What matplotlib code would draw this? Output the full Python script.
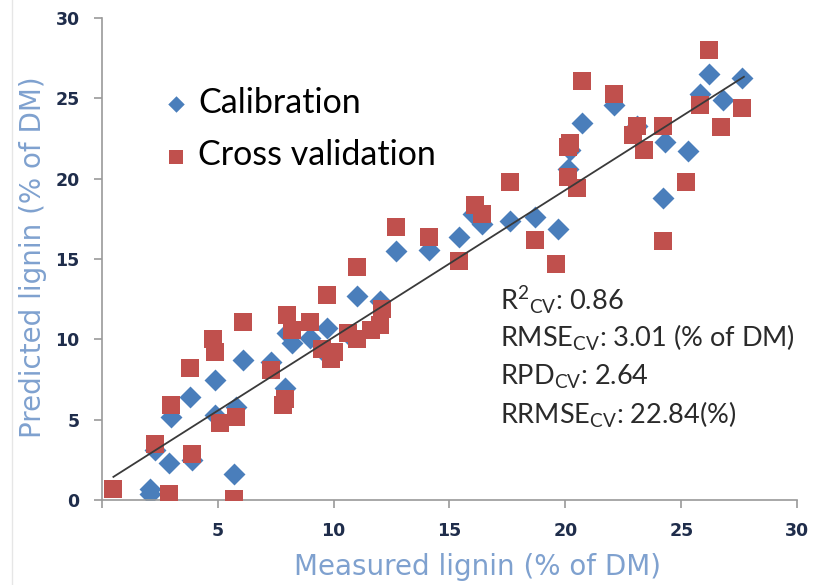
import matplotlib
matplotlib.use('Agg')
import matplotlib.pyplot as plt
from matplotlib.lines import Line2D

plt.rcParams['font.family'] = ['Lato', 'DejaVu Sans']
plt.rcParams['mathtext.default'] = 'regular'

# calibration points (measured, predicted)
cal_x = [2.1, 2.1, 5.7, 2.9, 3.9, 2.3, 3.0, 3.8, 4.9, 4.9, 5.8, 6.1, 7.3, 7.9,
         8.0, 8.2, 9.0, 9.7, 9.6, 10.7, 11.0, 12.0, 12.7, 14.1, 15.4, 16.0,
         16.4, 17.6, 18.7, 19.7, 20.1, 20.2, 20.7, 22.1, 23.1, 24.3, 25.3,
         24.2, 25.8, 26.2, 26.8, 27.6]
cal_y = [0.7, 0.4, 1.6, 2.3, 2.5, 3.1, 5.2, 6.4, 7.5, 5.3, 5.8, 8.7, 8.6, 7.0,
         10.4, 9.8, 10.1, 10.7, 9.2, 10.2, 12.7, 12.4, 15.5, 15.6, 16.4, 17.8,
         17.2, 17.4, 17.6, 16.9, 20.6, 21.8, 23.5, 24.6, 23.3, 22.3, 21.7,
         18.8, 25.3, 26.5, 24.9, 26.3]

# cross validation points
cv_x = [0.5, 2.9, 5.7, 2.3, 3.9, 3.0, 3.8, 4.8, 4.9, 5.1, 5.8, 6.1, 7.3, 7.8,
        7.9, 8.0, 8.2, 9.0, 9.7, 9.5, 9.9, 10.0, 10.6, 11.0, 11.0, 11.6, 12.0,
        12.1, 12.7, 14.1, 15.4, 16.1, 16.4, 17.6, 18.7, 19.6, 20.1, 20.5,
        20.1, 20.2, 20.7, 22.1, 22.9, 23.1, 23.4, 24.2, 24.2, 25.2, 25.8,
        26.2, 26.7, 27.6]
cv_y = [0.7, 0.4, 0.1, 3.5, 2.9, 5.9, 8.2, 10.0, 9.2, 4.8, 5.2, 11.1, 8.1, 5.9,
        6.3, 11.5, 10.6, 11.1, 12.8, 9.4, 8.8, 9.2, 10.4, 10.0, 14.5, 10.6,
        10.9, 11.9, 17.0, 16.4, 14.9, 18.4, 17.8, 19.8, 16.2, 14.7, 20.1, 19.4,
        22.0, 22.2, 26.1, 25.3, 22.7, 23.3, 21.8, 23.3, 16.1, 19.8, 24.6,
        28.0, 23.2, 24.4]

# trend line ends
fit_x = [0.5, 27.7]
fit_y = [1.45, 26.35]

stats = [r'R$^{2}$$_{CV}$: 0.86',
         r'RMSE$_{CV}$: 3.01 (% of DM)',
         r'RPD$_{CV}$: 2.64',
         r'RRMSE$_{CV}$: 22.84(%)']

blue = '#4A7EBB'
red = '#C0504D'
tick_col = '#1F2D4B'
label_col = '#7FA1CF'

fig = plt.figure(figsize=(8.21, 5.85), dpi=100)
ax = fig.add_axes([0.124, 0.145, 0.847, 0.824])

ax.scatter(cal_x, cal_y, marker='D', s=125, color=blue, linewidths=0,
           label='Calibration', zorder=2)
ax.scatter(cv_x, cv_y, marker='s', s=165, color=red, linewidths=0,
           label='Cross validation', zorder=3)
ax.plot(fit_x, fit_y, color='#3a3a3a', lw=1.3, zorder=4)

ax.set_xlim(0, 30)
ax.set_ylim(0, 30)
ax.set_xticks(range(0, 31, 5))
ax.set_xticklabels([''] + [str(v) for v in range(5, 31, 5)])
ax.set_yticks(range(0, 31, 5))

for sp in ['top', 'right']:
    ax.spines[sp].set_visible(False)
for sp in ['left', 'bottom']:
    ax.spines[sp].set_color('#9a9a9a')
    ax.spines[sp].set_linewidth(1.2)
ax.tick_params(direction='out', length=6, width=1.2, color='#9a9a9a',
               labelcolor=tick_col, labelsize=12.5, pad=10)
for lab in ax.get_xticklabels() + ax.get_yticklabels():
    lab.set_fontfamily('DejaVu Sans')
    lab.set_fontweight('bold')

ax.set_xlabel('Measured lignin (% of DM)', fontsize=20, color=label_col,
              family='DejaVu Sans', va='center')
ax.set_ylabel('Predicted lignin (% of DM)', fontsize=20, color=label_col,
              family='DejaVu Sans', va='center')
ax.xaxis.set_label_coords(0.54, -0.139)
ax.yaxis.set_label_coords(-0.099, 0.505)

leg = ax.legend(loc='upper left', bbox_to_anchor=(0.082, 0.857),
                frameon=False, fontsize=24.5, handlelength=1.0,
                handletextpad=0.15, labelspacing=0.6, markerscale=0.75,
                borderaxespad=0, borderpad=0)

for i, s in enumerate(stats):
    ax.text(17.2, 12.45 - i * 2.38, s, fontsize=19.5, va='center',
            ha='left', color='#2a2a2a')

fig.add_artist(Line2D([0.015, 0.015], [0, 1], color='#e6e6e6', lw=1))

fig.savefig('out.png', dpi=100)
